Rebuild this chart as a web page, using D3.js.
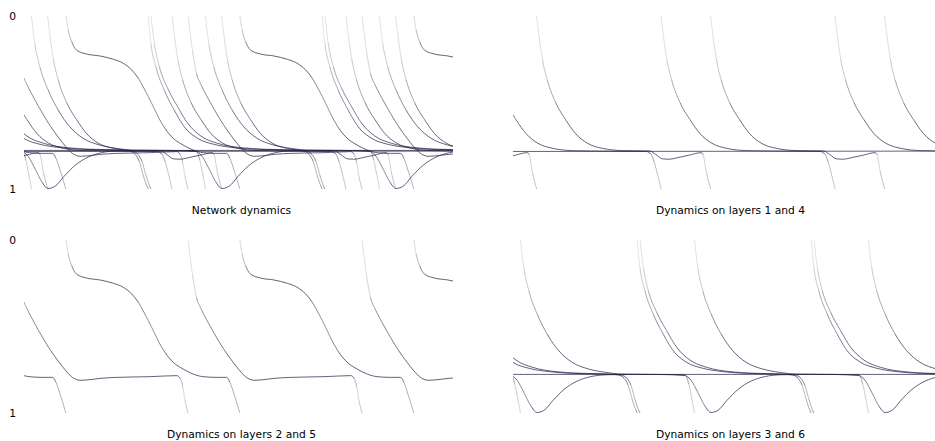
<!DOCTYPE html>
<html>
<head>
<meta charset="utf-8">
<script src="https://cdnjs.cloudflare.com/ajax/libs/d3/7.8.5/d3.min.js"></script>
<style>
	body { margin: 0; background: #fff; }
	text { font-family: "DejaVu Sans", Verdana, sans-serif; font-size: 10.7px; fill: #000; }
	.trace { fill: none; stroke: #242448; stroke-width: 0.9; }
</style>
</head>
<body>
<div id="chart"></div>
<script>
// time runs over about 2.5 firing periods; one period = 100 time units
// each firing neuron goes from 0 (just fired) to 1 (fires) within one period
var timeSpan = [0, 246.6];
var valueTicks = [0, 1];

// layers 1 and 4 : [phase, value] over one cycle
var l14aShape = [[0,0],[1.3,0.11],[3.3,0.25],[6.1,0.37],[10.9,0.5],[16.7,0.6],[22.4,0.68],[29.1,0.735],[37.8,0.765],[49.3,0.778],[64.9,0.78],[68.4,0.80],[72.4,0.826],[76.4,0.828],[80.5,0.82],[87.9,0.804],[94.5,0.79],[95.6,0.80],[97.5,0.90],[100,1]];
var l14aStarts = [-86.4, 13.6, 113.6, 213.6];
var l14bShape = [[0,0],[1.3,0.11],[3.3,0.25],[6.1,0.37],[10.9,0.5],[16.7,0.6],[22.4,0.68],[29.1,0.735],[37.8,0.765],[49.3,0.778],[70,0.781],[91.4,0.783],[94.3,0.80],[96.1,0.845],[98.1,0.92],[100,1]];
var l14bStarts = [-14.9, 85.1, 185.1];
var l14Rest = [[0,0.783],[246.6,0.781]];

// layers 2 and 5
var l25aShape = [[0,0],[1.3,0.081],[3.3,0.148],[6.1,0.197],[11.9,0.22],[19.5,0.231],[27.2,0.25],[32.9,0.273],[37.8,0.312],[41.6,0.36],[45.4,0.428],[49.3,0.505],[53.0,0.582],[56.9,0.649],[61.7,0.707],[67.4,0.746],[73.2,0.775],[78.9,0.79],[86.6,0.794],[92.4,0.794],[94.3,0.823],[96.6,0.89],[98.4,0.948],[100,1]];
var l25aStarts = [-75.9, 24.1, 124.1, 224.1];
var l25bShape = [[0,0],[1.0,0.081],[2.5,0.197],[4.8,0.33],[7.6,0.40],[11.5,0.476],[16.3,0.562],[21.1,0.64],[25.9,0.707],[29.7,0.755],[33.5,0.794],[35.1,0.803],[37.9,0.811],[41.8,0.809],[49.4,0.80],[59.0,0.794],[78.2,0.79],[93.5,0.784],[95.4,0.798],[97.0,0.85],[98.3,0.929],[100,1]];
var l25bStarts = [-5.7, 94.3, 194.3];

// layers 3 and 6
var l36aShape = [[0,0],[1.55,0.158],[4.4,0.293],[9.2,0.428],[14.9,0.543],[20.7,0.64],[28.4,0.707],[37.9,0.742],[49.4,0.761],[62.9,0.771],[82,0.775],[89.1,0.78],[92.5,0.80],[94.8,0.84],[97.1,0.92],[99.1,0.98],[100,1]];
var l36aStarts = [-28.6, 71.4, 171.4];
var l36bShape = [[0,0],[1.9,0.158],[4.8,0.293],[9.6,0.418],[15.3,0.524],[21.1,0.62],[28.7,0.694],[38.3,0.736],[51.7,0.761],[65,0.77],[82,0.775],[89.1,0.78],[92.5,0.80],[94.8,0.84],[97.1,0.92],[99.1,0.98],[100,1]];
var l36bStarts = [-27.0, 73.0, 173.0];
var l36cShape = [[0,0],[1.9,0.158],[4.8,0.293],[9.6,0.428],[15.3,0.543],[22.0,0.64],[29.7,0.707],[39.3,0.746],[48.9,0.765],[58.4,0.775],[80,0.777],[94.8,0.784],[96.7,0.832],[98.7,0.929],[100,1]];
var l36cStarts = [-95.7, 4.3, 104.3, 204.3];
// pushed towards 1 each time the third neuron fires, never reaches it
var l36dShape = [[0,0.778],[4.0,0.81],[8.3,0.888],[11.8,0.956],[15.5,0.997],[19.5,0.985],[24.7,0.927],[31.0,0.864],[38.5,0.816],[46.3,0.79],[55.7,0.779],[64.9,0.777],[100,0.778]];
var l36dStarts = [-101.7, -1.7, 98.3, 198.3];
var l36Rest = [[0,0.777],[246.6,0.777]];

var l14 = [
	{shape: l14aShape, starts: l14aStarts},
	{shape: l14bShape, starts: l14bStarts},
	{trace: l14Rest}
];
var l25 = [
	{shape: l25aShape, starts: l25aStarts},
	{shape: l25bShape, starts: l25bStarts}
];
var l36 = [
	{shape: l36aShape, starts: l36aStarts},
	{shape: l36bShape, starts: l36bStarts},
	{shape: l36cShape, starts: l36cStarts},
	{shape: l36dShape, starts: l36dStarts},
	{trace: l36Rest}
];

var width = 935,
	height = 441;
var plotW = 429,
	plotH = 173;

var panels = [
	{title: 'Network dynamics', left: 24, top: 16, neurons: l14.concat(l25, l36), ticks: true},
	{title: 'Dynamics on layers 1 and 4', left: 513, top: 16, neurons: l14, ticks: false},
	{title: 'Dynamics on layers 2 and 5', left: 24, top: 240, neurons: l25, ticks: true},
	{title: 'Dynamics on layers 3 and 6', left: 513, top: 240, neurons: l36, ticks: false}
];

var svg = d3.select('#chart').append('svg')
	.attr('width', width)
	.attr('height', height);

function cycles(n) {
	if (n.trace) return [n.trace];
	return n.starts.map(function(s) {
		return n.shape.map(function(d) { return [d[0] + s, d[1]]; });
	});
}

// split a smoothed cycle into its bezier pieces; steep pieces are drawn fainter,
// like densely sampled points that spread out where the value moves fast
function pieces(d) {
	var parts = d.split('C');
	if (parts.length < 2) return [{d: d, alpha: 0.8}];
	var prev = parts[0].slice(1).split(',').map(Number);
	var out = [];
	for (var k = 1; k < parts.length; k++) {
		var n = parts[k].split(',').map(Number);
		var end = [n[4], n[5]];
		var dx = end[0] - prev[0], dy = end[1] - prev[1];
		var len = Math.sqrt(dx * dx + dy * dy) || 1;
		var alpha = 0.8 * Math.max(0.17, Math.min(1, 1.6 * dx / len));
		out.push({d: 'M' + prev[0] + ',' + prev[1] + 'C' + parts[k], alpha: alpha});
		prev = end;
	}
	return out;
}

panels.forEach(function(p, i) {
	var x = d3.scaleLinear().domain(timeSpan).range([p.left, p.left + plotW]);
	var y = d3.scaleLinear().domain([0, 1]).range([p.top, p.top + plotH]);

	svg.append('clipPath')
		.attr('id', 'clip' + i)
		.append('rect')
		.attr('x', p.left)
		.attr('y', p.top - 2)
		.attr('width', plotW)
		.attr('height', plotH + 4);

	var line = d3.line()
		.x(function(d) { return x(d[0]); })
		.y(function(d) { return y(d[1]); })
		.curve(d3.curveMonotoneX);

	var segs = [];
	p.neurons.forEach(function(n) {
		cycles(n).forEach(function(c) { segs = segs.concat(pieces(line(c))); });
	});

	svg.append('g')
		.attr('clip-path', 'url(#clip' + i + ')')
		.selectAll('path')
		.data(segs)
		.enter().append('path')
		.attr('class', 'trace')
		.attr('stroke-opacity', function(d) { return d.alpha; })
		.attr('d', function(d) { return d.d; });

	if (p.ticks) {
		var ax = svg.append('g')
			.attr('transform', 'translate(' + p.left + ',0)')
			.call(d3.axisLeft(y)
				.tickValues(valueTicks)
				.tickSize(0)
				.tickPadding(8)
				.tickFormat(d3.format('d')));
		ax.select('.domain').remove();
		ax.selectAll('text').style('font-size', '10.7px').style('font-family', '"DejaVu Sans", Verdana, sans-serif');
	}

	svg.append('text')
		.attr('x', p.left + plotW / 2 + 3)
		.attr('y', p.top + plotH + 25)
		.attr('text-anchor', 'middle')
		.text(p.title);
});
</script>
</body>
</html>
